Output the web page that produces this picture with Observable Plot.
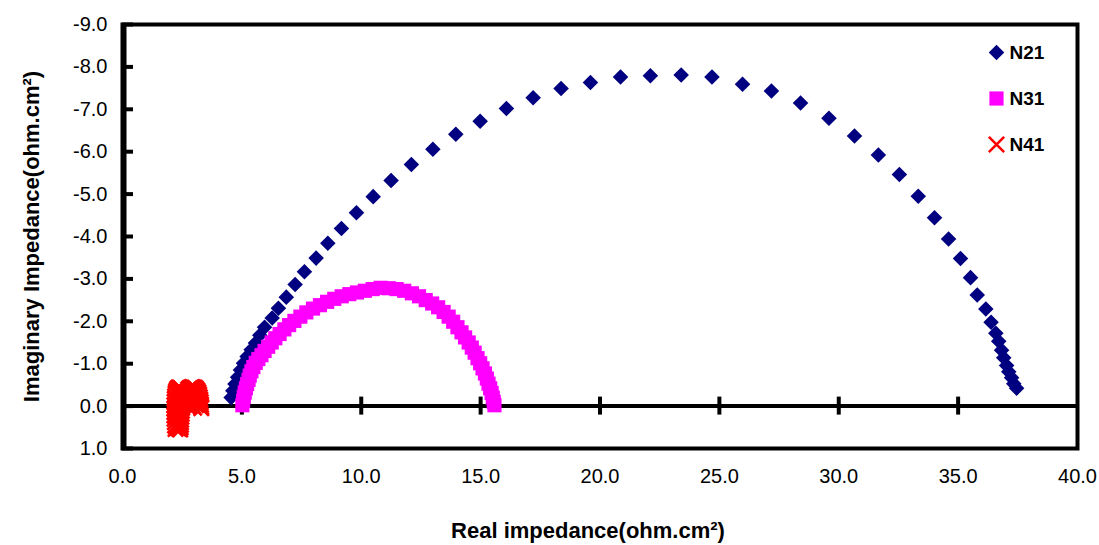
<!DOCTYPE html>
<html><head><meta charset="utf-8">
<script src="https://cdn.jsdelivr.net/npm/d3@7"></script>
<script src="https://cdn.jsdelivr.net/npm/@observablehq/plot@0.6"></script>
<style>
body{margin:0;background:#fff;}
#chart svg{font-family:"Liberation Sans", Arial, sans-serif;}
</style>
</head><body><div id="chart"></div>
<script>
// ---- data (real, imaginary in ohm.cm2; imaginary shown as negative upward) ----
const seriesNames = ["N21", "N31", "N41"];
const seriesColors = ["#000080", "#FF00FF", "#FF0000"];
const seriesSymbols = ["diamond2", "square", "times"];

const n21X = [4.55,4.62,4.71,4.82,4.94,5.07,5.22,5.39,5.57,5.75,5.95,6.27,6.53,6.86,7.23,7.62,8.11,8.60,9.17,9.80,10.50,11.25,12.10,13.00,13.96,14.98,16.08,17.20,18.37,19.60,20.86,22.11,23.40,24.69,25.97,27.18,28.40,29.59,30.66,31.66,32.54,33.33,34.01,34.60,35.10,35.52,35.80,36.16,36.38,36.58,36.70,36.82,36.91,37.03,37.12,37.24,37.33,37.45];
const n21Y = [-0.20,-0.36,-0.52,-0.68,-0.85,-1.01,-1.17,-1.33,-1.49,-1.67,-1.86,-2.08,-2.31,-2.57,-2.87,-3.17,-3.49,-3.84,-4.19,-4.56,-4.94,-5.32,-5.70,-6.06,-6.41,-6.72,-7.02,-7.27,-7.49,-7.63,-7.76,-7.79,-7.81,-7.76,-7.59,-7.43,-7.15,-6.79,-6.37,-5.92,-5.46,-4.95,-4.44,-3.94,-3.48,-3.03,-2.62,-2.29,-1.98,-1.72,-1.53,-1.32,-1.14,-0.96,-0.81,-0.67,-0.53,-0.42];

const n31X = [5.02,5.05,5.08,5.12,5.17,5.22,5.28,5.33,5.40,5.48,5.58,5.69,5.82,5.95,6.10,6.25,6.40,6.58,6.78,6.98,7.20,7.45,7.70,7.98,8.27,8.57,8.87,9.18,9.50,9.82,10.15,10.48,10.81,11.15,11.48,11.80,12.12,12.42,12.70,12.97,13.22,13.45,13.66,13.85,14.03,14.20,14.35,14.50,14.63,14.75,14.87,14.98,15.08,15.18,15.26,15.33,15.40,15.46,15.51,15.55,15.58];
const n31Y = [-0.02,-0.12,-0.22,-0.32,-0.42,-0.52,-0.62,-0.72,-0.82,-0.92,-1.02,-1.11,-1.20,-1.30,-1.40,-1.50,-1.60,-1.70,-1.81,-1.91,-2.01,-2.11,-2.21,-2.30,-2.38,-2.46,-2.53,-2.59,-2.64,-2.68,-2.72,-2.76,-2.79,-2.78,-2.76,-2.72,-2.66,-2.59,-2.50,-2.42,-2.33,-2.22,-2.11,-1.99,-1.86,-1.74,-1.62,-1.50,-1.38,-1.26,-1.13,-1.01,-0.89,-0.77,-0.65,-0.53,-0.42,-0.31,-0.20,-0.10,-0.02];

const n41X = [2.22,2.20,2.19,2.18,2.17,2.17,2.17,2.17,2.18,2.19,2.20,2.22,2.24,2.27,2.30,2.34,2.37,2.41,2.44,2.47,2.50,2.52,2.53,2.53,2.52,2.51,2.50,2.49,2.48,2.47,2.46,2.45,2.45,2.44,2.42,2.38,2.32,2.27,
  2.58,2.62,2.66,2.70,2.75,2.80,2.86,2.92,2.98,3.04,3.09,3.14,3.18,3.21,3.24,3.26,3.28,3.29,3.30,3.30,3.26,3.18,3.08,3.00,2.94,2.88,2.82,2.76,2.70,2.64];
const n41Y = [0.54,0.46,0.38,0.30,0.22,0.14,0.06,-0.02,-0.10,-0.17,-0.23,-0.29,-0.34,-0.38,-0.41,-0.43,-0.44,-0.43,-0.42,-0.39,-0.35,-0.30,-0.24,-0.17,-0.10,-0.03,0.04,0.11,0.18,0.25,0.32,0.38,0.44,0.50,0.55,0.54,0.52,0.48,
  -0.15,-0.22,-0.29,-0.34,-0.39,-0.42,-0.44,-0.45,-0.44,-0.43,-0.40,-0.36,-0.32,-0.27,-0.21,-0.15,-0.09,-0.03,0.02,0.05,0.00,-0.04,-0.02,0.04,0.00,-0.05,-0.09,-0.12,-0.10,-0.06];

const xTicks = [0,5,10,15,20,25,30,35,40];
const yTicks = [-9,-8,-7,-6,-5,-4,-3,-2,-1,0,1];
const xTitle = "Real impedance(ohm.cm²)";
const yTitle = "Imaginary Impedance(ohm.cm²)";

const toRows = (xs, ys) => xs.map((x, i) => ({x, y: ys[i]}));
const seriesData = [toRows(n21X, n21Y), toRows(n31X, n31Y), toRows(n41X, n41Y)];

const W = 1099, H = 545, ML = 122, MR = 22, MT = 24, MB = 97;
const markR = [7, 8, 7];

function dotOpts(i, extra) {
  const o = {symbol: seriesSymbols[i], r: markR[i], ...extra};
  if (seriesSymbols[i] === "times") { o.stroke = seriesColors[i]; o.strokeWidth = 2.6; o.fill = "none"; }
  else { o.fill = seriesColors[i]; o.stroke = "none"; }
  return o;
}

const marks = [
  Plot.axisX({ticks: xTicks, tickFormat: d => d.toFixed(1), tickSize: 0, tickPadding: 20, fontSize: 20, label: null}),
  Plot.axisY({ticks: yTicks, tickFormat: d => d.toFixed(1), tickSize: 0, tickPadding: 15, fontSize: 20, label: null}),
  Plot.ruleY([0], {stroke: "#000", strokeWidth: 4}),
  Plot.tickY(yTicks, {y: d => d, stroke: "#000", strokeWidth: 4, insetRight: W - ML - MR - 11}),
  Plot.ruleX(xTicks.filter(d => d > 0 && d < 40), {x: d => d, y1: 0, y2: 0, insetTop: -9, insetBottom: -9, stroke: "#000", strokeWidth: 4}),
  Plot.frame({stroke: "#000", strokeWidth: 4}),
  Plot.ruleX([0], {stroke: "#000", strokeWidth: 4, dx: 2}),
];
seriesData.forEach((rows, i) => {
  marks.push(Plot.dot(rows, dotOpts(i, {x: "x", y: "y"})));
});
seriesNames.forEach((name, i) => {
  marks.push(Plot.dot([name], dotOpts(i, {frameAnchor: "top-right", dx: -81, dy: 28 + 46 * i})));
  marks.push(Plot.text([name], {text: d => d, frameAnchor: "top-right", dx: -68, dy: 28 + 46 * i, textAnchor: "start", lineAnchor: "middle", fontWeight: "bold", fontSize: 19, fill: "#000"}));
});
marks.push(Plot.text([yTitle], {text: d => d, frameAnchor: "left", rotate: -90, dx: -91, textAnchor: "middle", lineAnchor: "middle", fontWeight: "bold", fontSize: 22, fill: "#000"}));
marks.push(Plot.text([xTitle], {text: d => d, frameAnchor: "bottom", dx: -12, dy: 82, textAnchor: "middle", lineAnchor: "middle", fontWeight: "bold", fontSize: 22, fill: "#000"}));

const chart = Plot.plot({
  width: W, height: H,
  marginLeft: ML, marginRight: MR, marginTop: MT, marginBottom: MB,
  style: {fontFamily: "'Liberation Sans', Arial, sans-serif", fontSize: "20px", color: "#000", background: "#fff", overflow: "visible"},
  x: {domain: [0, 40]},
  y: {domain: [1, -9]},
  marks
});
document.getElementById("chart").appendChild(chart);
</script>
</body></html>
